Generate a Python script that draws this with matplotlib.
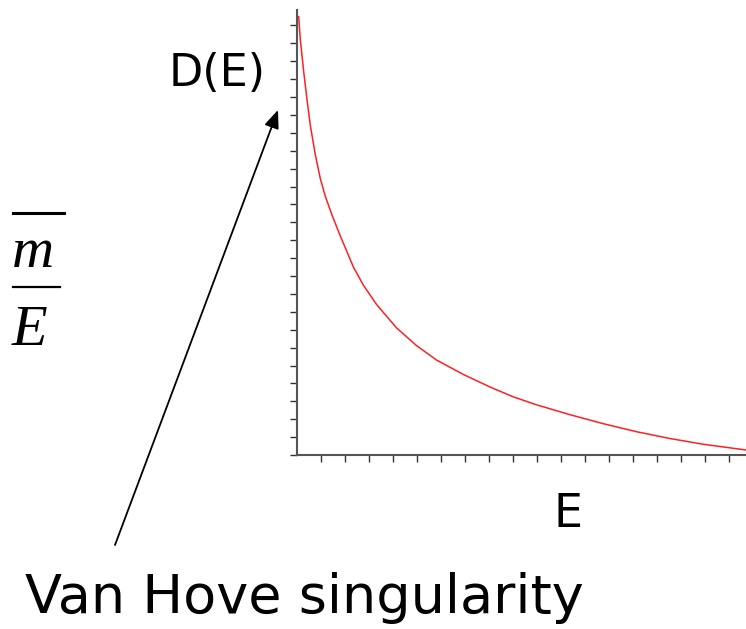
import matplotlib.pyplot as plt
import numpy as np
from matplotlib.lines import Line2D

# Density of states D(E)
energy = [0.07, 0.14, 0.28, 0.42, 0.55, 0.76, 0.97, 1.18, 1.46, 1.80, 2.35,
          2.76, 3.32, 4.15, 4.99, 5.82, 6.93, 8.04, 9.01, 9.99, 11.38, 12.76,
          14.15, 15.54, 16.93, 18.71]
dos = [24.49, 23.18, 21.4, 19.83, 18.45, 16.8, 15.45, 14.45, 13.4, 12.25,
       10.5, 9.5, 8.4, 7.1, 6.1, 5.3, 4.5, 3.8, 3.25, 2.8, 2.25, 1.75, 1.3,
       0.92, 0.6, 0.28]

x_ticks = np.arange(1, 19)
y_ticks = np.arange(0, 25)

W, H = 746, 629
fig = plt.figure(figsize=(W / 100, H / 100), dpi=100)
fig.patch.set_facecolor('white')

ax = fig.add_axes([297 / W, (H - 455) / H, (W - 297) / W, (455 - 10) / H])
ax.plot(energy, dos, color='#ff2020', lw=1.1, solid_joinstyle='round')
ax.set_xlim(0, 449 / 24)
ax.set_ylim(0, 445 / 17.9)
ax.set_xticks(x_ticks)
ax.set_yticks(y_ticks)
ax.set_xticklabels([])
ax.set_yticklabels([])
ax.tick_params(direction='out', length=5, width=1, color='#333333')
for side in ['top', 'right']:
    ax.spines[side].set_visible(False)
for side in ['left', 'bottom']:
    ax.spines[side].set_color('#555555')
    ax.spines[side].set_linewidth(1.5)


def px(x, y):
    return x / W, 1 - y / H


fig.text(*px(217, 86), 'D(E)', fontsize=32, ha='center', va='baseline')
fig.text(*px(568, 527), 'E', fontsize=33, ha='center', va='baseline')
fig.text(*px(25, 613), 'Van Hove singularity', fontsize=39, ha='left', va='baseline')

# cut-off fraction on the left edge
fig.text(*px(12, 267), 'm', fontsize=42, family='Liberation Serif', style='italic',
         ha='left', va='baseline')
fig.text(*px(12, 345), 'E', fontsize=42, family='Liberation Serif', style='italic',
         ha='left', va='baseline')
fig.add_artist(Line2D([13 / W, 64 / W], [1 - 213 / H, 1 - 213 / H], color='black', lw=2.2))
fig.add_artist(Line2D([13 / W, 60 / W], [1 - 287 / H, 1 - 287 / H], color='black', lw=1.6))

# arrow pointing at the singularity
ax.annotate('', xy=(278, H - 110), xycoords='figure pixels',
            xytext=(115, H - 545), textcoords='figure pixels',
            arrowprops=dict(arrowstyle='-|>,head_length=1.1,head_width=0.45',
                            color='black', lw=1.3, shrinkA=0, shrinkB=0))

fig.savefig('out.png', dpi=100)
